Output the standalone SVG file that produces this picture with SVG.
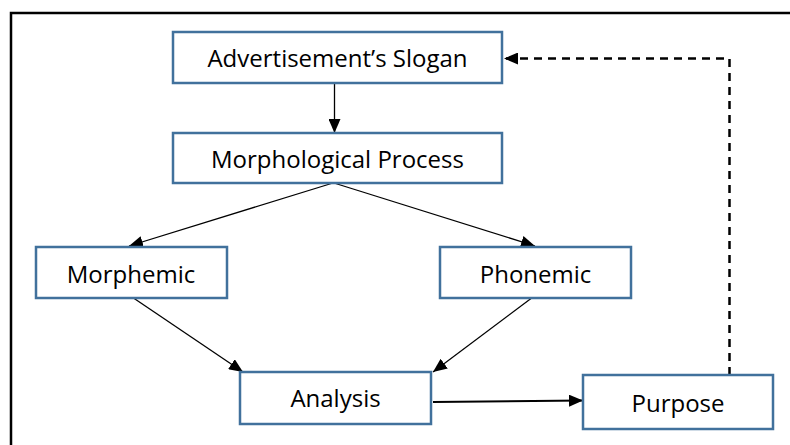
<svg xmlns="http://www.w3.org/2000/svg" width="790" height="445" viewBox="0 0 790 445">
<style>
.box{fill:#fff;stroke:#41719C;stroke-width:2.5}
.lbl{font-family:"Open Sans","Liberation Sans",sans-serif;font-size:24px;fill:#000;text-anchor:middle}
.c{fill:none;stroke:#000;stroke-width:1.3}
</style>
<defs>
<marker id="ah" viewBox="0 0 14 12" refX="14" refY="6" markerWidth="14" markerHeight="12" markerUnits="userSpaceOnUse" orient="auto">
<path d="M0,0 L14,6 L0,12 Z" fill="#000"/>
</marker>
</defs>
<rect x="11" y="13" width="800" height="450" fill="#fff" stroke="#000" stroke-width="2.5"/>
<g id="connectors">
<line class="c" x1="334.5" y1="83" x2="334.5" y2="133" marker-end="url(#ah)"/>
<line class="c" x1="333" y1="183" x2="129" y2="246" marker-end="url(#ah)"/>
<line class="c" x1="334" y1="183" x2="535" y2="246" marker-end="url(#ah)"/>
<line class="c" x1="132" y1="297" x2="243" y2="372" marker-end="url(#ah)"/>
<line class="c" x1="533" y1="297" x2="433" y2="372" marker-end="url(#ah)"/>
<line class="c" style="stroke-width:2.2" x1="433" y1="402" x2="583" y2="400.5" marker-end="url(#ah)"/>
<path class="c" style="stroke-width:2.5;stroke-dasharray:8,6" d="M729.5,375 L729.5,58.5 L504,58.5" marker-end="url(#ah)"/>
</g>
<g id="n-slogan"><rect class="box" x="173" y="32" width="329" height="51"/><text class="lbl" x="337.5" y="66.5">Advertisement’s Slogan</text></g>
<g id="n-process"><rect class="box" x="173" y="133" width="329" height="50"/><text class="lbl" x="337.5" y="168">Morphological Process</text></g>
<g id="n-morphemic"><rect class="box" x="36" y="247" width="191" height="51"/><text class="lbl" x="131" y="282.5">Morphemic</text></g>
<g id="n-phonemic"><rect class="box" x="440" y="247" width="191" height="51"/><text class="lbl" x="535.5" y="282.5">Phonemic</text></g>
<g id="n-analysis"><rect class="box" x="240" y="372" width="191" height="52"/><text class="lbl" x="335.5" y="407">Analysis</text></g>
<g id="n-purpose"><rect class="box" x="583" y="375" width="190" height="54"/><text class="lbl" x="678" y="411.5">Purpose</text></g>
</svg>
